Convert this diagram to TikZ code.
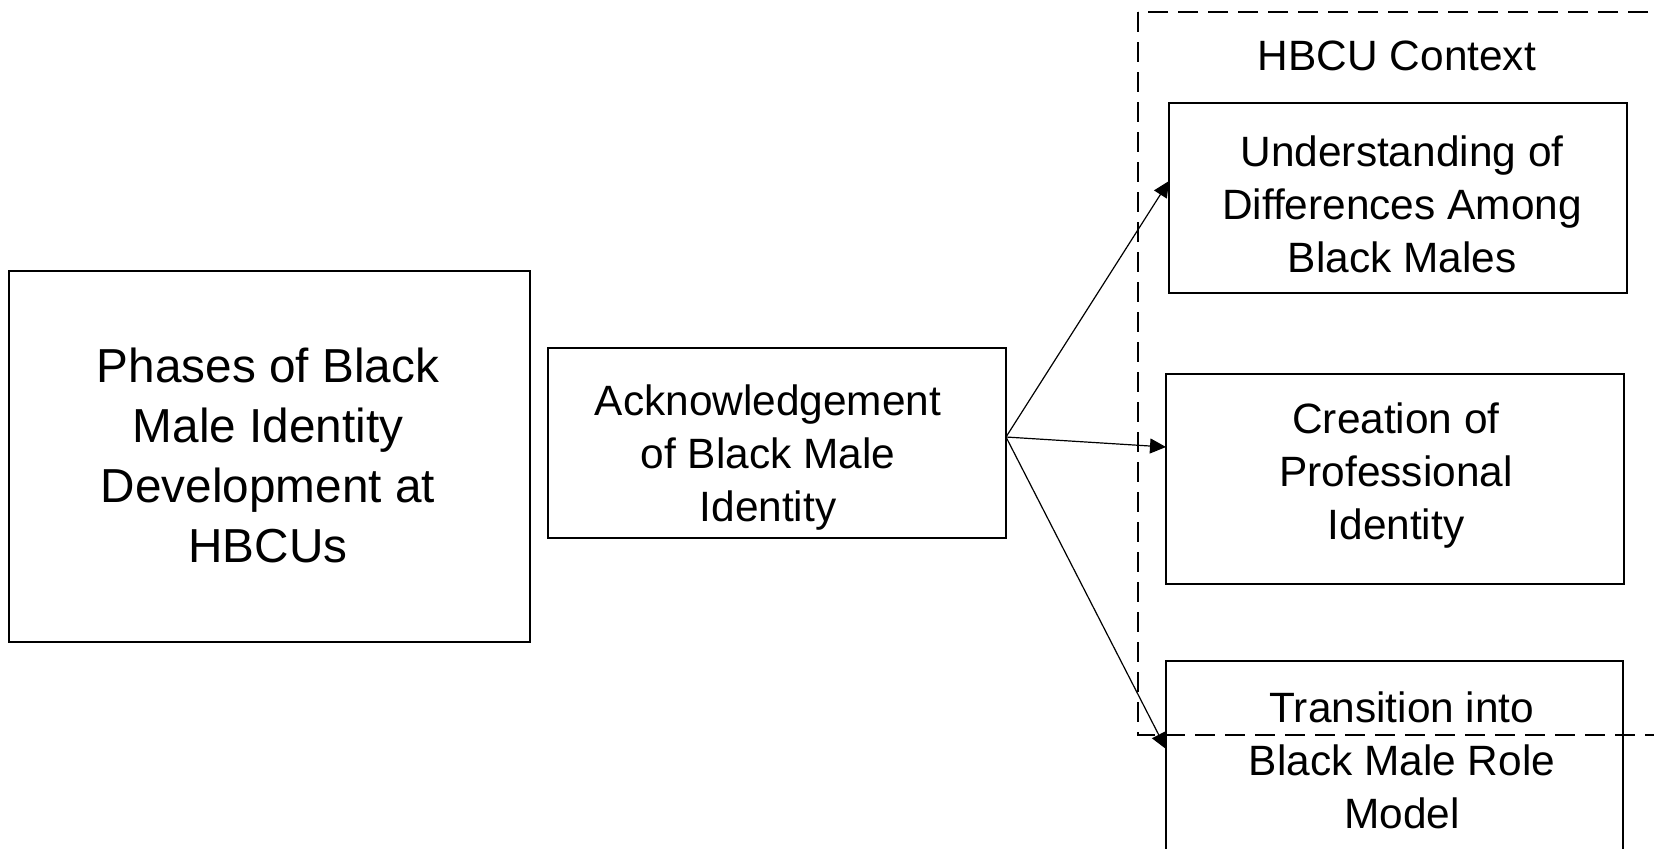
\documentclass[tikz,border=0pt]{standalone}
\usepackage{fontspec}
\setmainfont{Liberation Sans}
\usetikzlibrary{arrows.meta,calc}
\begin{document}
\begin{tikzpicture}[x=0.5pt,y=-0.5pt,
  framebox/.style={draw=black, line width=1pt, rectangle, inner sep=0pt, outer sep=0pt},
  bigtxt/.style={align=center, inner sep=0pt, font=\fontsize{23.85pt}{30pt}\selectfont},
  txt/.style={align=center, inner sep=0pt, font=\fontsize{21.2pt}{26.5pt}\selectfont},
  ctxbox/.style={draw=black, line width=1.1pt, dash pattern=on 10pt off 5pt},
  link/.style={draw=black, line width=0.6pt, -{Triangle[length=8pt,width=7.5pt]}}]
\useasboundingbox (0,0) rectangle (1654,848);
\clip (0,0) rectangle (1654,848);
% boxes
\node[framebox, minimum width=260.5pt, minimum height=185.5pt] (phases) at (269.5,456.5) {};
\node[framebox, minimum width=229pt, minimum height=95pt] (ack) at (777,443) {};
\node[framebox, minimum width=229pt, minimum height=95pt] (und) at (1398,198) {};
\node[framebox, minimum width=229pt, minimum height=105pt] (cre) at (1395,479) {};
\node[framebox, minimum width=228.5pt, minimum height=120pt] (tra) at (1394.5,781) {};
% texts
\node[bigtxt] (phasestxt) at (268,455) {Phases of Black\\Male Identity\\Development at\\HBCUs};
\node[txt] (acktxt) at (768,458) {Acknowledgement\\of Black Male\\Identity};
\node[txt] (undtxt) at (1402,204) {Understanding of\\Differences Among\\Black Males};
\node[txt] (cretxt) at (1396,476) {Creation of\\Professional\\Identity};
\node[txt] (tratxt) at (1402,760) {Transition into\\Black Male Role\\Model};
% context frame
\draw[ctxbox] (1138,12) rectangle (1720,735);
\node[txt] (ctx) at (1397,56) {HBCU Context};
% connectors
\coordinate (src) at ($(ack.east)+(0,-6)$);
\coordinate (undin) at ($(und.west)+(0,-17)$);
\coordinate (crein) at ($(cre.west)+(0,-32)$);
\coordinate (train) at ($(tra.west)+(0,-32)$);
\draw[link] (src) -- (undin);
\draw[link] (src) -- (crein);
\draw[link] (src) -- (train);
\end{tikzpicture}
\end{document}
